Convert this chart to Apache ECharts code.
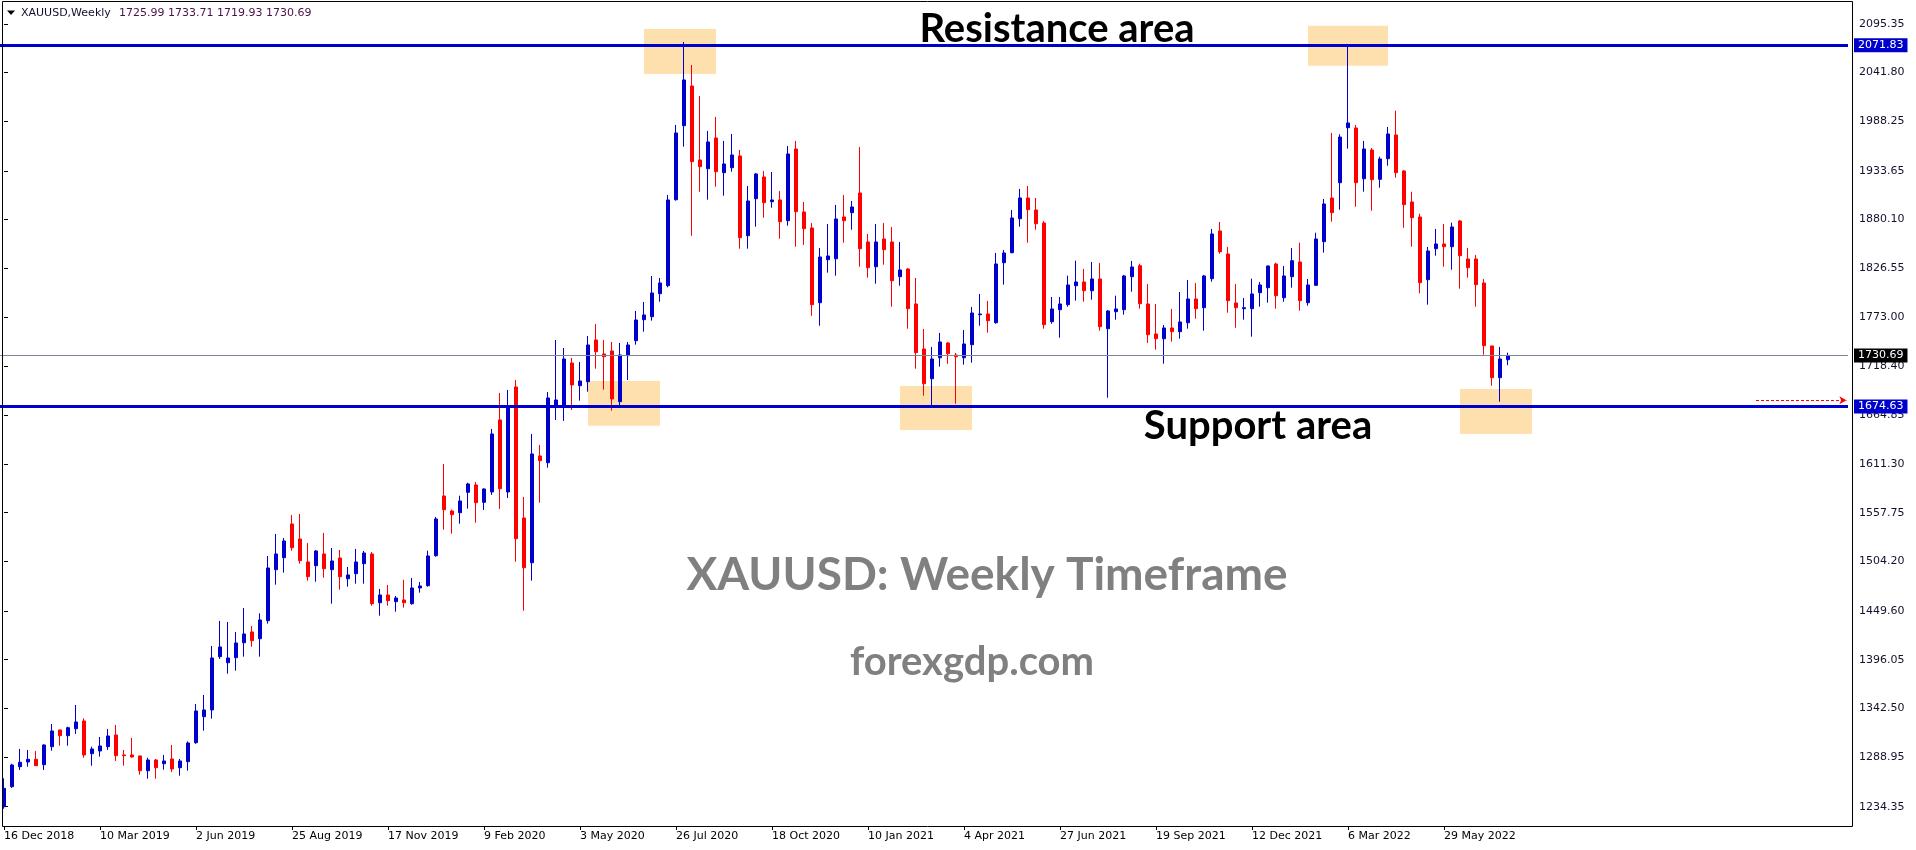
<!DOCTYPE html>
<html>
<head>
<meta charset="utf-8">
<title>XAUUSD Weekly</title>
<script src="https://cdn.jsdelivr.net/npm/echarts@6.0.0/dist/echarts.min.js"></script>
<style>
  html, body { margin: 0; padding: 0; background: #ffffff; }
  #chart { width: 1916px; height: 850px; }
</style>
</head>
<body>
<div id="chart"></div>
<script>
// Weekly XAUUSD bars, first bar = week of 16 Dec 2018
const openPrices = [
  1234.3, 1256.3, 1278.3, 1283.5, 1286.4, 1280.5, 1300.3, 1318.7, 1312.4, 1320.1,
  1328.6, 1292.6, 1295.6, 1300.3, 1313.2, 1291.2, 1291.2, 1290.1, 1273.9, 1285.7,
  1281.6, 1286.8, 1277.2, 1283.8, 1304.7, 1333.3, 1340.7, 1399.3, 1392.7, 1398.2,
  1414.7, 1426.5, 1419.1, 1438.9, 1495.0, 1508.2, 1545.3, 1528.8, 1503.5, 1499.4,
  1512.3, 1495.0, 1507.9, 1485.1, 1490.6, 1501.6, 1512.3, 1458.7, 1467.2, 1459.8,
  1461.7, 1457.6, 1474.9, 1477.4, 1510.4, 1576.1, 1559.6, 1557.7, 1580.1, 1588.2,
  1569.1, 1580.5, 1659.7, 1580.5, 1696.0, 1551.9, 1502.7, 1620.1, 1612.7, 1675.1,
  1675.1, 1722.4, 1697.4, 1701.8, 1747.7, 1732.3, 1735.6, 1679.8, 1730.4, 1746.9,
  1770.0, 1773.3, 1798.6, 1807.4, 1902.0, 1983.4, 2027.1, 1945.7, 1936.1, 1969.9,
  1931.7, 1937.2, 1950.1, 1862.4, 1903.1, 1927.0, 1899.8, 1901.7, 1878.9, 1957.8,
  1888.5, 1870.9, 1788.7, 1836.0, 1837.1, 1883.0, 1887.7, 1909.4, 1855.5, 1828.3,
  1858.8, 1855.5, 1817.3, 1825.8, 1787.3, 1737.8, 1705.1, 1728.2, 1744.4, 1731.2,
  1728.2, 1742.5, 1775.5, 1776.3, 1766.7, 1832.7, 1843.7, 1881.1, 1903.9, 1890.7,
  1876.4, 1767.8, 1781.0, 1786.5, 1807.4, 1811.5, 1801.9, 1814.8, 1760.1, 1778.8,
  1781.0, 1817.3, 1829.4, 1787.3, 1754.3, 1749.1, 1760.9, 1756.8, 1766.7, 1792.8,
  1783.2, 1815.1, 1867.6, 1842.3, 1788.4, 1782.1, 1782.1, 1799.7, 1805.2, 1831.3,
  1794.2, 1817.3, 1833.5, 1788.7, 1807.8, 1855.8, 1903.9, 1920.7, 1981.2, 1980.9,
  1925.1, 1956.7, 1924.4, 1947.1, 1973.2, 1933.6, 1899.5, 1883.0, 1814.0, 1848.1,
  1853.3, 1850.3, 1878.6, 1836.8, 1836.8, 1810.4, 1741.1, 1706.2, 1725.99
];
const highPrices = [
  1265.5, 1281.5, 1297.8, 1296.7, 1295.6, 1302.9, 1325.3, 1319.0, 1322.3, 1346.2,
  1331.5, 1300.3, 1311.0, 1319.8, 1324.2, 1296.7, 1309.9, 1290.5, 1288.2, 1286.8,
  1291.2, 1302.2, 1286.8, 1306.2, 1347.3, 1357.2, 1411.1, 1438.6, 1437.5, 1426.5,
  1452.9, 1433.1, 1447.0, 1510.1, 1534.3, 1529.9, 1555.2, 1556.3, 1524.4, 1516.7,
  1535.4, 1518.9, 1516.7, 1498.0, 1517.8, 1515.6, 1514.5, 1473.8, 1478.2, 1466.1,
  1484.0, 1485.9, 1481.5, 1515.9, 1553.0, 1611.3, 1561.0, 1576.4, 1590.7, 1591.5,
  1584.5, 1649.8, 1689.4, 1692.7, 1703.7, 1575.0, 1644.3, 1632.2, 1690.5, 1747.7,
  1738.9, 1727.9, 1723.5, 1752.1, 1765.3, 1747.7, 1745.5, 1744.4, 1745.5, 1779.6,
  1789.5, 1818.1, 1815.9, 1907.2, 1984.2, 2075.5, 2050.2, 2016.1, 1977.6, 1993.0,
  1966.6, 1974.3, 1956.7, 1917.1, 1931.4, 1933.6, 1932.5, 1911.6, 1961.1, 1966.6,
  1899.5, 1876.4, 1848.9, 1875.3, 1896.2, 1907.2, 1900.6, 1960.0, 1864.3, 1875.3,
  1876.4, 1872.0, 1855.5, 1826.9, 1815.9, 1759.8, 1740.0, 1755.4, 1745.5, 1733.4,
  1758.7, 1784.0, 1798.3, 1790.6, 1843.4, 1846.7, 1890.7, 1913.8, 1917.1, 1903.9,
  1878.6, 1795.0, 1795.0, 1818.4, 1834.9, 1825.8, 1833.5, 1832.4, 1780.7, 1796.4,
  1819.2, 1834.6, 1831.6, 1809.3, 1787.3, 1764.2, 1781.8, 1800.5, 1813.7, 1810.4,
  1819.2, 1869.8, 1877.5, 1850.0, 1809.3, 1793.9, 1815.1, 1811.5, 1829.5, 1832.7,
  1829.1, 1848.9, 1854.7, 1814.8, 1865.7, 1902.8, 1975.4, 1974.0, 2072.2, 1984.2,
  1966.6, 1958.9, 1949.3, 1982.0, 1999.9, 1934.7, 1910.8, 1886.6, 1850.0, 1869.8,
  1875.3, 1876.7, 1879.7, 1848.9, 1841.2, 1814.8, 1741.5, 1740.0, 1733.71
];
const lowPrices = [
  1232.0, 1255.0, 1274.7, 1278.3, 1279.0, 1274.7, 1295.9, 1301.4, 1301.4, 1314.3,
  1288.2, 1279.4, 1289.3, 1296.7, 1284.6, 1279.4, 1288.2, 1269.5, 1265.1, 1265.1,
  1275.0, 1272.5, 1268.4, 1273.9, 1303.5, 1317.9, 1331.1, 1396.8, 1380.6, 1383.9,
  1399.3, 1410.3, 1399.3, 1435.6, 1478.5, 1491.7, 1515.9, 1501.6, 1482.9, 1481.8,
  1486.2, 1457.6, 1473.0, 1476.3, 1479.6, 1479.6, 1455.4, 1444.4, 1455.4, 1448.8,
  1453.2, 1456.5, 1469.7, 1476.3, 1509.3, 1539.0, 1534.6, 1545.6, 1562.1, 1546.7,
  1560.7, 1577.2, 1561.8, 1573.9, 1503.8, 1449.9, 1482.9, 1568.7, 1607.2, 1659.7,
  1658.6, 1670.7, 1680.9, 1690.8, 1716.1, 1693.0, 1669.9, 1676.2, 1703.7, 1742.5,
  1756.8, 1768.9, 1789.8, 1805.6, 1901.0, 1960.3, 1862.4, 1910.8, 1902.0, 1916.3,
  1906.4, 1932.8, 1848.1, 1848.1, 1872.3, 1882.2, 1893.2, 1859.1, 1873.4, 1850.3,
  1852.2, 1774.4, 1763.4, 1821.7, 1818.4, 1854.7, 1869.0, 1828.3, 1816.2, 1809.6,
  1830.5, 1784.3, 1807.4, 1760.1, 1716.1, 1686.4, 1675.4, 1718.3, 1721.6, 1677.6,
  1720.5, 1722.7, 1763.4, 1755.7, 1765.6, 1808.5, 1843.0, 1872.3, 1854.7, 1869.0,
  1760.1, 1765.6, 1750.2, 1784.3, 1790.9, 1789.8, 1792.0, 1757.9, 1684.2, 1770.0,
  1775.5, 1800.8, 1782.1, 1744.4, 1737.0, 1721.6, 1745.8, 1749.1, 1760.1, 1771.1,
  1757.9, 1811.8, 1842.6, 1777.7, 1761.2, 1770.0, 1751.3, 1784.3, 1788.7, 1782.1,
  1789.8, 1805.2, 1779.9, 1785.4, 1807.4, 1843.7, 1877.8, 1891.0, 1958.1, 1894.3,
  1910.8, 1889.9, 1915.2, 1939.4, 1926.2, 1871.2, 1850.3, 1799.0, 1786.5, 1840.4,
  1828.3, 1825.0, 1804.1, 1816.2, 1784.3, 1731.5, 1697.4, 1679.8, 1719.93
];
const closePrices = [
  1254.5, 1280.2, 1283.1, 1286.4, 1279.4, 1302.2, 1317.6, 1312.4, 1321.2, 1327.5,
  1291.2, 1297.8, 1301.1, 1312.1, 1290.4, 1290.4, 1289.0, 1273.9, 1285.7, 1277.2,
  1284.6, 1275.8, 1284.6, 1304.4, 1339.6, 1340.7, 1397.9, 1410.0, 1397.9, 1414.4,
  1424.3, 1416.9, 1439.7, 1496.9, 1512.3, 1526.6, 1519.2, 1504.9, 1487.3, 1515.6,
  1496.1, 1504.6, 1487.3, 1489.2, 1503.5, 1513.4, 1457.6, 1467.2, 1460.9, 1463.9,
  1458.7, 1474.9, 1477.1, 1510.1, 1550.8, 1561.0, 1555.5, 1570.6, 1589.3, 1568.7,
  1583.8, 1644.3, 1584.1, 1675.1, 1529.1, 1497.2, 1622.3, 1614.9, 1683.9, 1681.7,
  1726.8, 1698.2, 1702.6, 1742.2, 1734.8, 1729.3, 1682.8, 1731.2, 1742.2, 1769.7,
  1775.2, 1799.4, 1810.4, 1901.7, 1975.4, 2033.7, 1943.8, 1938.3, 1965.5, 1932.8,
  1941.3, 1951.2, 1860.2, 1900.6, 1930.3, 1898.7, 1901.7, 1877.8, 1952.3, 1888.8,
  1870.1, 1786.5, 1839.0, 1840.1, 1880.8, 1878.9, 1894.0, 1848.1, 1827.2, 1855.5,
  1847.0, 1812.9, 1824.7, 1782.1, 1733.7, 1699.6, 1726.8, 1745.5, 1732.6, 1729.3,
  1743.3, 1777.4, 1776.3, 1768.9, 1831.3, 1843.4, 1881.9, 1903.9, 1891.0, 1875.6,
  1764.5, 1781.8, 1787.3, 1808.2, 1811.5, 1801.9, 1814.8, 1762.3, 1779.6, 1781.8,
  1818.1, 1828.0, 1787.6, 1753.5, 1749.1, 1760.9, 1756.8, 1767.5, 1792.8, 1782.1,
  1818.1, 1864.3, 1844.8, 1790.9, 1783.2, 1783.2, 1798.3, 1808.2, 1829.1, 1796.4,
  1818.1, 1834.9, 1790.9, 1808.2, 1858.8, 1897.3, 1887.7, 1970.9, 1986.4, 1920.7,
  1957.8, 1924.0, 1946.8, 1974.3, 1931.7, 1896.5, 1882.2, 1810.7, 1845.6, 1853.3,
  1850.3, 1872.0, 1840.4, 1827.2, 1808.5, 1741.4, 1706.2, 1726.8, 1730.69
];

// Price scale labels
const priceTicks = [
  2095.35, 2041.80, 1988.25, 1933.65, 1880.10, 1826.55, 1773.00, 1718.40, 1664.85,
  1611.30, 1557.75, 1504.20, 1449.60, 1396.05, 1342.50, 1288.95, 1234.35
];

// Horizontal levels
const resistanceLevel = 2071.83;
const supportLevel = 1674.63;
const alertLevel = 1681.5;
const alertFromBar = 219;
const alertToBar = 230.3;

// Highlighted zones: bar range and price range
const zoneFromBar = [80, 73, 112, 163, 182];
const zoneToBar = [89, 82, 121, 173, 191];
const zoneLowPrice = [2040.3, 1653.4, 1648.7, 2049.4, 1644.3];
const zoneHighPrice = [2089.8, 1702.6, 1697.1, 2093.4, 1693.8];

// Visible price range of the plot
const priceMin = 1213.06;
const priceMax = 2120.56;

const monthNames = ['Jan', 'Feb', 'Mar', 'Apr', 'May', 'Jun', 'Jul', 'Aug', 'Sep', 'Oct', 'Nov', 'Dec'];
const firstWeek = Date.UTC(2018, 11, 16);
const barCount = openPrices.length;
const slotCount = 231; // bars plus empty space on the right
const lastBar = barCount - 1;
const lastPrice = closePrices[lastBar];

const categories = [];
for (let i = 0; i < slotCount; i++) {
  if (i < barCount) {
    const d = new Date(firstWeek + i * 7 * 86400000);
    categories.push(d.getUTCDate() + ' ' + monthNames[d.getUTCMonth()] + ' ' + d.getUTCFullYear());
  } else {
    categories.push('');
  }
}

const candleData = openPrices.map((o, i) => [o, closePrices[i], lowPrices[i], highPrices[i]]);

const zoneData = zoneFromBar.map((from, k) => [
  { coord: [from, zoneHighPrice[k]] },
  { coord: [zoneToBar[k], zoneLowPrice[k]] }
]);

const showDateLabel = (idx, val) => idx % 12 === 0 && val !== '';

const levelLabel = (bg) => ({
  show: true,
  position: 'end',
  distance: 6,
  formatter: (p) => Number(p.value).toFixed(2),
  backgroundColor: bg,
  color: '#ffffff',
  fontFamily: 'DejaVu Sans',
  fontSize: 11,
  lineHeight: 13,
  padding: [1, 4, 0, 4]
});

const headerText = [openPrices[lastBar], highPrices[lastBar], lowPrices[lastBar], closePrices[lastBar]]
  .map(v => v.toFixed(2)).join(' ');

const chart = echarts.init(document.getElementById('chart'), null, { renderer: 'canvas' });

chart.setOption({
  animation: false,
  backgroundColor: '#ffffff',
  grid: { left: 0, top: 1, width: 1848, height: 825, show: false, containLabel: false },
  xAxis: [
    {
      type: 'category',
      data: categories,
      boundaryGap: true,
      axisLine: { show: false },
      axisTick: {
        show: true, alignWithLabel: true, interval: showDateLabel, length: 4,
        lineStyle: { color: '#000000', width: 1 }
      },
      axisLabel: {
        interval: showDateLabel, align: 'left', margin: 5,
        color: '#000000', fontFamily: 'DejaVu Sans', fontSize: 11
      },
      splitLine: { show: false }
    },
    { type: 'value', min: -0.5, max: slotCount - 0.5, show: false }
  ],
  yAxis: {
    type: 'value',
    position: 'right',
    offset: 4,
    min: priceMin,
    max: priceMax,
    axisLine: { show: false },
    axisTick: { show: true, length: 4, customValues: priceTicks, lineStyle: { color: '#000000' } },
    axisLabel: {
      customValues: priceTicks,
      formatter: (v) => v.toFixed(2),
      margin: 7,
      color: '#14102c',
      fontFamily: 'DejaVu Sans',
      fontSize: 11
    },
    splitLine: { show: false }
  },
  series: [
    {
      name: 'zones',
      type: 'line',
      xAxisIndex: 1,
      yAxisIndex: 0,
      data: [],
      silent: true,
      z: 1,
      markArea: {
        silent: true,
        itemStyle: { color: '#fde0ad' },
        data: zoneData
      }
    },
    {
      name: 'XAUUSD',
      type: 'candlestick',
      xAxisIndex: 0,
      yAxisIndex: 0,
      data: candleData,
      barWidth: 4,
      silent: true,
      z: 3,
      itemStyle: {
        color: '#0000cd',
        color0: '#ff0000',
        borderColor: '#0000cd',
        borderColor0: '#ff0000',
        borderColorDoji: '#0000cd',
        borderWidth: 1
      }
    },
    {
      name: 'levels',
      type: 'line',
      xAxisIndex: 1,
      yAxisIndex: 0,
      data: [],
      silent: true,
      z: 5,
      markLine: {
        silent: true,
        symbol: 'none',
        animation: false,
        data: [
          {
            yAxis: lastPrice,
            lineStyle: { color: '#7d8896', width: 1, type: 'solid' },
            label: levelLabel('#000000')
          },
          {
            yAxis: resistanceLevel,
            lineStyle: { color: '#0000cd', width: 3, type: 'solid' },
            label: levelLabel('#0000cd')
          },
          {
            yAxis: supportLevel,
            lineStyle: { color: '#0000cd', width: 3, type: 'solid' },
            label: levelLabel('#0000cd')
          },
          [
            { coord: [alertFromBar, alertLevel], symbol: 'none' },
            {
              coord: [alertToBar, alertLevel], symbol: 'arrow', symbolSize: [6, 7],
              lineStyle: { color: '#ff0000', width: 1, type: [3, 2] },
              label: { show: false }
            }
          ]
        ]
      }
    }
  ],
  graphic: [
    {
      type: 'rect', silent: true, z: 100,
      shape: { x: 2.5, y: 1.5, width: 1850, height: 825 },
      style: { fill: 'none', stroke: '#000000', lineWidth: 1 }
    },
    {
      type: 'polygon', silent: true, z: 100,
      shape: { points: [[7, 10.5], [15, 10.5], [11, 15]] },
      style: { fill: '#000000' }
    },
    {
      type: 'text', silent: true, z: 100, x: 21, y: 13,
      style: { text: 'XAUUSD,Weekly', fill: '#10102e', font: '11px "DejaVu Sans"', align: 'left', verticalAlign: 'middle' }
    },
    {
      type: 'text', silent: true, z: 100, x: 119, y: 13,
      style: { text: headerText, fill: '#4a1048', font: '11px "DejaVu Sans"', align: 'left', verticalAlign: 'middle' }
    },
    {
      type: 'text', silent: true, z: 100, x: 1057, y: 29,
      style: { text: 'Resistance area', fill: '#000000', font: 'bold 40px Lato', align: 'center', verticalAlign: 'middle' }
    },
    {
      type: 'text', silent: true, z: 100, x: 1258, y: 426,
      style: { text: 'Support area', fill: '#000000', font: 'bold 40px Lato', align: 'center', verticalAlign: 'middle' }
    },
    {
      type: 'text', silent: true, z: 0, x: 987, y: 575,
      style: { text: 'XAUUSD: Weekly Timeframe', fill: '#808080', font: 'bold 46px Lato', align: 'center', verticalAlign: 'middle' }
    },
    {
      type: 'text', silent: true, z: 0, x: 972, y: 662,
      style: { text: 'forexgdp.com', fill: '#808080', font: 'bold 40px Lato', align: 'center', verticalAlign: 'middle' }
    }
  ]
});
</script>
</body>
</html>
